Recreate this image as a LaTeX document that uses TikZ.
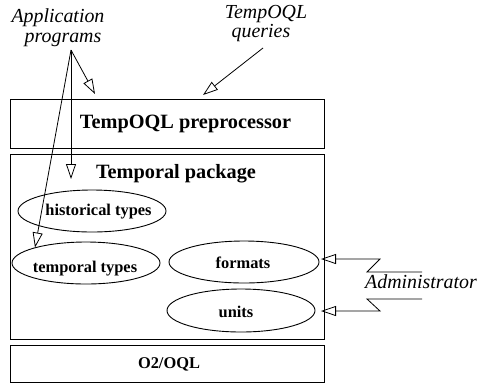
\documentclass[tikz,border=0pt]{standalone}
\usepackage{fontspec}
\setmainfont{Liberation Serif}
\usetikzlibrary{arrows.meta,shapes.geometric}

\begin{document}
\begin{tikzpicture}[x=1bp,y=-1bp,
  layerbox/.style={draw, line width=1bp, inner sep=0pt, anchor=north west},
  modellipse/.style={draw, ellipse, line width=0.9bp, inner sep=0pt},
  bigbold/.style={font=\fontsize{20.3bp}{22bp}\selectfont\bfseries, anchor=base, inner sep=0pt},
  smallbold/.style={font=\fontsize{16.4bp}{18bp}\selectfont\bfseries, anchor=base, inner sep=0pt},
  actor/.style={font=\fontsize{19.9bp}{22bp}\selectfont\itshape, anchor=base, inner sep=0pt},
  flow/.style={line width=0.8bp, -{Triangle[open,length=15bp,width=10bp]}}
]
\useasboundingbox (0,0) rectangle (481,385);

% layered architecture
\node[layerbox, minimum width=314bp, minimum height=49bp] (pre) at (10,99) {};
\node[layerbox, minimum width=314bp, minimum height=185bp] (pkg) at (10,154) {};
\node[layerbox, minimum width=314bp, minimum height=37bp] (o2) at (10,345) {};

\node[bigbold] (preL) at (185.5,128) {TempOQL preprocessor};
\node[bigbold] (pkgL) at (176,178) {Temporal package};
\node[smallbold] (o2L) at (169,368) {O2/OQL};

% modules of the temporal package
\node[modellipse, minimum width=148bp, minimum height=42bp] (hist) at (92,211) {};
\node[modellipse, minimum width=148bp, minimum height=42bp] (temp) at (86,263) {};
\node[modellipse, minimum width=150bp, minimum height=42bp] (fmt) at (244,262) {};
\node[modellipse, minimum width=148bp, minimum height=43bp] (unit) at (241,310.5) {};

\node[smallbold] (histL) at (98.5,215) {historical types};
\node[smallbold] (tempL) at (85,272) {temporal types};
\node[smallbold] (fmtL) at (243,268) {formats};
\node[smallbold] (unitL) at (236,317) {units};

% external users
\node[actor] (app1) at (58,22) {Application};
\node[actor] (app2) at (63,42) {programs};
\node[actor] (qry1) at (266,18) {TempOQL};
\node[actor] (qry2) at (261,37) {queries};
\node[actor, anchor=base west] (adm) at (365,288) {Administrator};

% connector end points
\coordinate (appsrc) at (71,50);
\coordinate (toPre) at (95,94);
\coordinate (toPkg) at (71,179);
\coordinate (toTemp) at (35,247.5);
\coordinate (qsrc) at (263,48);
\coordinate (qtip) at (203,95);
\coordinate (fmtTip) at (321,259);
\coordinate (unitTip) at (321,311);

\draw[flow] (appsrc) -- (toPre);
\draw[flow] (appsrc) -- (toPkg);
\draw[flow] (appsrc) -- (toTemp);
\draw[flow] (qsrc) -- (qtip);

% administrator zig-zag links
\draw[flow, line join=miter] (422,272) -- (367,272) -- (380,259) -- (fmtTip);
\draw[flow, line join=miter] (422,299) -- (367,299) -- (380,311) -- (unitTip);
\end{tikzpicture}
\end{document}
